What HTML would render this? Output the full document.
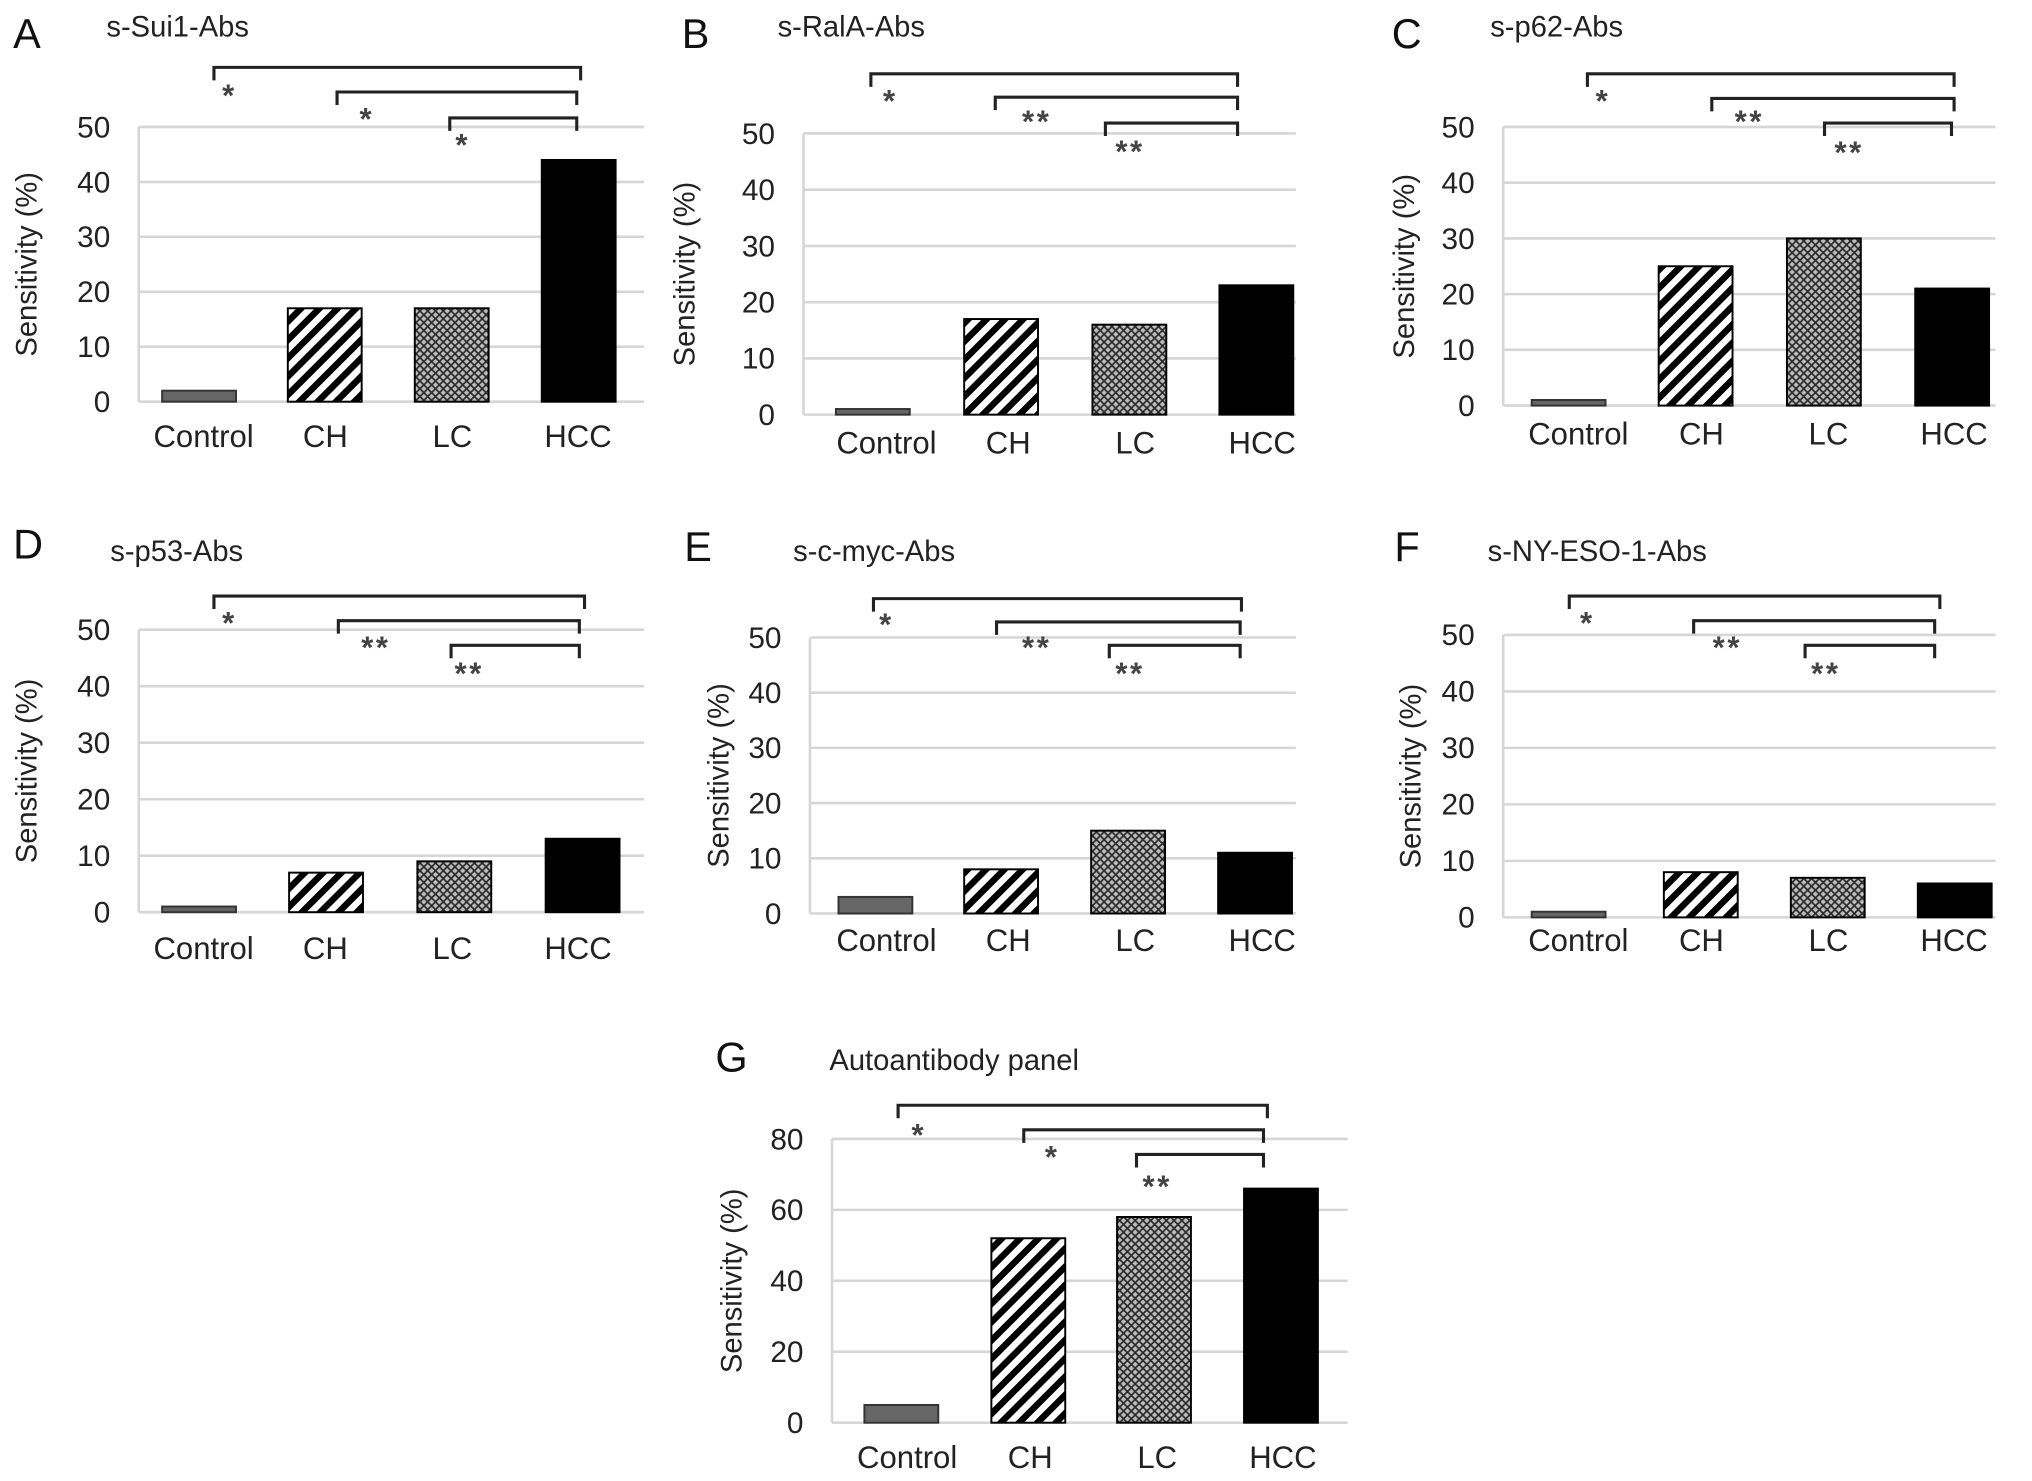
<!DOCTYPE html>
<html><head><meta charset="utf-8"><style>
html,body{margin:0;padding:0;background:#fff}
svg{display:block}
text{font-family:"Liberation Sans",Arial,sans-serif}
</style></head><body>
<svg id="fig" width="2032" height="1481" viewBox="0 0 1568 1143">
<defs>
<pattern id="stripe" patternUnits="userSpaceOnUse" width="10" height="10" patternTransform="rotate(45)">
<rect width="10" height="10" fill="#fff"/><rect width="5" height="10" fill="#000"/>
</pattern>
<pattern id="cross" patternUnits="userSpaceOnUse" width="6" height="6">
<rect width="6" height="6" fill="#bdbdbd"/>
<path d="M0,0L6,6M6,0L0,6" stroke="#2a2a2a" stroke-width="1.3"/>
</pattern>
</defs>
</svg>
<script>
const categories = ["Control","CH","LC","HCC"];
const valuesA = [2,17,17,44];
const valuesB = [1,17,16,23];
const valuesC = [1,25,30,21];
const valuesD = [1,7,9,13];
const valuesE = [3,8,15,11];
const valuesF = [1,8,7,6];
const valuesG = [5,52,58,66];
const ticks50 = [0,10,20,30,40,50];
const ticks80 = [0,20,40,60,80];
const sigA = ["*","*","*"];
const sigB = ["*","**","**"];
const sigC = ["*","**","**"];
const sigD = ["*","**","**"];
const sigE = ["*","**","**"];
const sigF = ["*","**","**"];
const sigG = ["*","*","**"];

const panels = [
 {id:"a",letter:"A",title:"s-Sui1-Abs",lx:10,ly:37,tx:82,ty:28,left:107,right:497,ytop:98,y0:310,vals:valuesA,ticks:ticks50,max:50,bx:[125,222,320,418],bw:57,catY:345,catX:[157,251,349,446],sig:sigA,br:[[165,448,52],[260,445,71],[347,445,91]],st:[[177,82],[283,100],[357,120]],ylab:20},
 {id:"b",letter:"B",title:"s-RalA-Abs",lx:526,ly:37,tx:600,ty:28,left:620,right:1000,ytop:103,y0:320,vals:valuesB,ticks:ticks50,max:50,bx:[645,744,843,941],bw:57,catY:350,catX:[684,778,876,974],sig:sigB,br:[[672,955,57],[768,955,75],[853,955,95]],st:[[687,86],[800,102],[872,125]],ylab:528},
 {id:"c",letter:"C",title:"s-p62-Abs",lx:1074,ly:37,tx:1150,ty:28,left:1160,right:1540,ytop:98,y0:313,vals:valuesC,ticks:ticks50,max:50,bx:[1182,1280,1379,1478],bw:57,catY:343,catX:[1218,1313,1411,1508],sig:sigC,br:[[1225,1508,57],[1321,1508,76],[1408,1506,95]],st:[[1237,86],[1350,102],[1427,126]],ylab:1083},
 {id:"d",letter:"D",title:"s-p53-Abs",lx:10,ly:431,tx:85,ty:433,left:107,right:497,ytop:486,y0:704,vals:valuesD,ticks:ticks50,max:50,bx:[125,223,322,421],bw:57,catY:740,catX:[157,251,349,446],sig:sigD,br:[[165,451,460],[261,447,479],[348,447,498]],st:[[177,489],[290,508],[362,528]],ylab:20},
 {id:"e",letter:"E",title:"s-c-myc-Abs",lx:528,ly:433,tx:612,ty:433,left:625,right:1000,ytop:492,y0:705,vals:valuesE,ticks:ticks50,max:50,bx:[647,744,842,940],bw:57,catY:734,catX:[684,778,876,974],sig:sigE,br:[[674,958,462],[769,957,480],[856,957,498]],st:[[684,490],[800,508],[872,528]],ylab:554},
 {id:"f",letter:"F",title:"s-NY-ESO-1-Abs",lx:1076,ly:433,tx:1148,ty:433,left:1160,right:1540,ytop:490,y0:708,vals:valuesF,ticks:ticks50,max:50,bx:[1182,1284,1382,1480],bw:57,catY:734,catX:[1218,1313,1411,1508],sig:sigF,br:[[1211,1497,460],[1307,1493,479],[1393,1493,498]],st:[[1225,489],[1333,508],[1409,528]],ylab:1088},
 {id:"g",letter:"G",title:"Autoantibody panel",lx:552,ly:827,tx:640,ty:826,left:642,right:1040,ytop:879,y0:1098,vals:valuesG,ticks:ticks80,max:80,bx:[667,765,862,960],bw:57,catY:1133,catX:[700,795,893,990],sig:sigG,br:[[693,978,853],[790,975,872],[877,975,891]],st:[[709,884],[812,901],[893,924]],ylab:564}
];
const fills = ["#666","url(#stripe)","url(#cross)","#000"];
const NS="http://www.w3.org/2000/svg";
const svg=document.getElementById('fig');
function mk(tag,attrs,parent,txt){const e=document.createElementNS(NS,tag);for(const k in attrs)e.setAttribute(k,attrs[k]);if(txt!==undefined)e.textContent=txt;parent.appendChild(e);return e;}
panels.forEach(p=>{
 const g=mk('g',{},svg);
 
 
 const yS=v=>p.y0-(v/p.max)*(p.y0-p.ytop);
 const L=mk('text',{x:p.lx,y:p.ly,'font-size':32,fill:'#111'},g,p.letter);
 
 
 const T=mk('text',{x:p.tx,y:p.ty,'font-size':22.5,fill:'#222'},g,p.title);
 
 
 p.ticks.forEach(t=>{
  const y=yS(t);
  const gl=mk('line',{x1:p.left,x2:p.right,y1:y,y2:y,stroke:'#d6d6d6','stroke-width':2},g);
  
  
  const tl=mk('text',{x:p.left-22,y:y+8,'font-size':23,'text-anchor':'end',fill:'#222'},g,String(t));
  
  
 });
 const ax=mk('line',{x1:p.left,x2:p.left,y1:p.ytop,y2:p.y0,stroke:'#d6d6d6','stroke-width':2},g);
 
 
 const yc=(p.ytop+p.y0)/2;
 const yt=mk('text',{x:p.ylab,y:yc,'font-size':22.5,'text-anchor':'middle',fill:'#222',transform:`rotate(-90 ${p.ylab} ${yc}) translate(0 8)`},g,'Sensitivity (%)');
 
 
 p.vals.forEach((v,i)=>{
  const y=yS(v);
  const b=mk('rect',{x:p.bx[i],y:y,width:p.bw,height:p.y0-y,fill:fills[i],stroke:i==0?'#333':'#000','stroke-width':1.5},g);
  
  
  const c=mk('text',{x:p.catX[i],y:p.catY,'font-size':24,'text-anchor':'middle',fill:'#222'},g,categories[i]);
  
  
 });
 p.br.forEach((b,i)=>{
  const path=mk('path',{d:`M${b[0]},${b[2]+10}V${b[2]}H${b[1]}V${b[2]+10}`,fill:'none',stroke:'#222','stroke-width':2.4},g);
  
  
  const s=mk('text',{x:p.st[i][0],y:p.st[i][1],'font-size':24,'font-weight':'bold','text-anchor':'middle',fill:'#444','letter-spacing':'2'},g,p.sig[i]);
  
  
 });
});
</script>
</body></html>
